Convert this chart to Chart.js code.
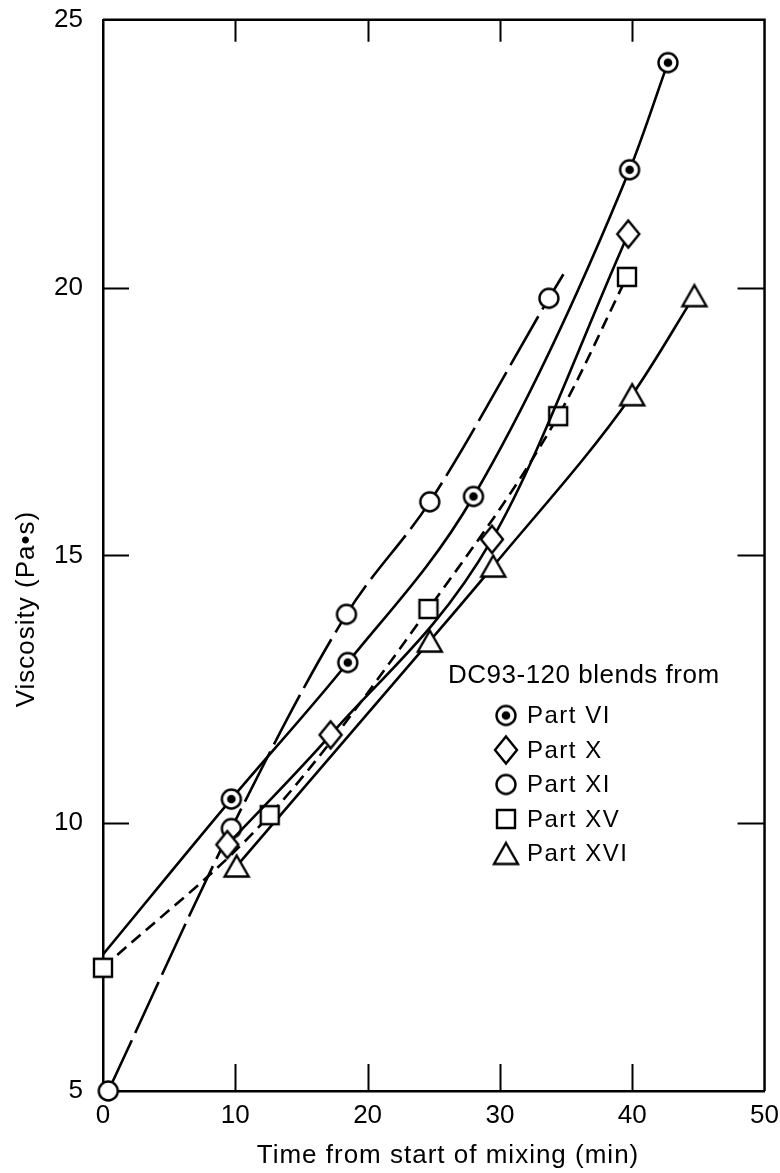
<!DOCTYPE html>
<html lang="en">
<head>
  <meta charset="UTF-8">
  <title>Viscosity of DC93-120 blends</title>
  <script src="https://cdn.jsdelivr.net/npm/chart.js"></script>
  <style>
    html, body { margin: 0; padding: 0; background: #fff; }
  </style>
</head>
<body>
  <canvas id="chart" width="780" height="1173"></canvas>

  <script>
    // values: time from start of mixing (min) / viscosity (Pa·s)
    const partVI_t  = [0, 9.7, 18.5, 28.0, 39.8, 42.7];
    const partVI_v  = [7.55, 10.45, 13.0, 16.1, 22.2, 24.2];
    const partX_t   = [9.4, 17.2, 29.4, 39.7];
    const partX_v   = [9.6, 11.65, 15.3, 21.0];
    const partXI_t  = [0.4, 9.7, 18.4, 24.7, 33.7, 34.8];
    const partXI_v  = [5.0, 9.9, 13.9, 16.0, 19.8, 20.25];
    const partXV_t  = [0, 12.6, 24.6, 34.4, 39.6];
    const partXV_v  = [7.3, 10.15, 14.0, 17.6, 20.2];
    const partXVI_t = [10.1, 24.7, 29.5, 40.0, 44.7];
    const partXVI_v = [9.2, 13.4, 14.8, 18.0, 19.85];

    const xTicks = [0, 10, 20, 30, 40, 50];
    const yTicks = [5, 10, 15, 20, 25];
    const xTitle = 'Time from start of mixing (min)';
    const yTitle = 'Viscosity (Pa•s)';
    const legendTitle = 'DC93-120 blends from';

    const FONT = '"Liberation Sans", Arial, sans-serif';

    // point markers drawn once on small canvases
    function makeMarker(kind) {
      const c = document.createElement('canvas');
      c.width = 30; c.height = 32;
      const g = c.getContext('2d');
      const cx = 15, cy = 16;
      g.lineWidth = 2.4;
      g.strokeStyle = '#000';
      g.fillStyle = '#fff';
      g.beginPath();
      if (kind === 'dot' || kind === 'circle') {
        g.arc(cx, cy, 9.5, 0, Math.PI * 2);
      } else if (kind === 'diamond') {
        g.moveTo(cx, cy - 13.5); g.lineTo(cx + 11, cy); g.lineTo(cx, cy + 13.5); g.lineTo(cx - 11, cy);
        g.closePath();
      } else if (kind === 'square') {
        g.rect(cx - 9, cy - 9, 18, 18);
      } else if (kind === 'triangle') {
        g.moveTo(cx, cy - 10.5); g.lineTo(cx + 12, cy + 10.5); g.lineTo(cx - 12, cy + 10.5);
        g.closePath();
      }
      g.fill();
      g.stroke();
      if (kind === 'dot') {
        g.beginPath();
        g.arc(cx, cy, 4.3, 0, Math.PI * 2);
        g.fillStyle = '#000';
        g.fill();
      }
      return c;
    }

    const toPoints = (t, v) => t.map((x, i) => ({ x, y: v[i] }));

    function series(label, t, v, kind, dash, hidden) {
      return {
        label,
        data: toPoints(t, v),
        borderColor: '#000',
        backgroundColor: '#fff',
        borderWidth: 2.6,
        borderDash: dash,
        pointStyle: makeMarker(kind),
        // no marker where the curve only runs on past the last reading
        pointRadius: t.map((_, i) => hidden.includes(i) ? 0 : 10),
        cubicInterpolationMode: 'monotone',
        fill: false,
        clip: false
      };
    }

    // frame on top/right plus inward tick marks
    const framePlugin = {
      id: 'frame',
      afterDatasetsDraw(chart) {
        const { ctx, chartArea: a, scales: { x, y } } = chart;
        ctx.save();
        ctx.strokeStyle = '#000';
        ctx.lineWidth = 2.5;
        ctx.beginPath();
        ctx.moveTo(a.left, a.top);
        ctx.lineTo(a.right, a.top);
        ctx.lineTo(a.right, a.bottom);
        ctx.stroke();
        ctx.lineWidth = 2;
        ctx.beginPath();
        xTicks.slice(1, -1).forEach(v => {
          const px = Math.round(x.getPixelForValue(v)) + 0.5;
          ctx.moveTo(px, a.bottom); ctx.lineTo(px, a.bottom - 27);
          ctx.moveTo(px, a.top); ctx.lineTo(px, a.top + 22);
        });
        yTicks.slice(1, -1).forEach(v => {
          const py = Math.round(y.getPixelForValue(v)) + 0.5;
          ctx.moveTo(a.left, py); ctx.lineTo(a.left + 26, py);
          ctx.moveTo(a.right, py); ctx.lineTo(a.right - 27, py);
        });
        ctx.stroke();
        ctx.restore();
      }
    };

    // axis titles and the legend block inside the plot
    const textPlugin = {
      id: 'texts',
      afterDraw(chart) {
        const ctx = chart.ctx;
        ctx.save();
        ctx.fillStyle = '#000';
        ctx.textBaseline = 'alphabetic';

        ctx.font = '26px ' + FONT;
        ctx.letterSpacing = '1px';
        ctx.textAlign = 'center';
        ctx.fillText(xTitle, 448, 1163);

        ctx.save();
        ctx.translate(34, 609);
        ctx.rotate(-Math.PI / 2);
        ctx.fillText(yTitle, 0, 0);
        ctx.restore();

        ctx.textAlign = 'left';
        ctx.letterSpacing = '0.5px';
        ctx.fillText(legendTitle, 448, 683);

        ctx.font = '24px ' + FONT;
        ctx.letterSpacing = '1.5px';
        chart.data.datasets.forEach((ds, i) => {
          const base = 723 + i * 34.5;
          ctx.drawImage(ds.pointStyle, 506 - 15, base - 7.5 - 16);
          ctx.fillText(ds.label, 527, base);
        });
        ctx.restore();
      }
    };

    new Chart(document.getElementById('chart').getContext('2d'), {
      type: 'line',
      data: {
        datasets: [
          series('Part VI', partVI_t, partVI_v, 'dot', [], [0]),
          series('Part X', partX_t, partX_v, 'diamond', [], []),
          series('Part XI', partXI_t, partXI_v, 'circle', [56, 8], [5]),
          series('Part XV', partXV_t, partXV_v, 'square', [12, 7], []),
          series('Part XVI', partXVI_t, partXVI_v, 'triangle', [], [])
        ]
      },
      options: {
        responsive: false,
        animation: false,
        layout: { padding: { top: 19, right: 7, left: 0, bottom: 0 } },
        plugins: { legend: { display: false }, tooltip: { enabled: false } },
        scales: {
          x: {
            type: 'linear',
            min: 0,
            max: 50,
            afterBuildTicks: s => { s.ticks = xTicks.map(value => ({ value })); },
            afterFit: s => { s.height = 82; },
            grid: { display: false },
            border: { display: true, color: '#000', width: 2.5 },
            ticks: { color: '#000', padding: 1, maxRotation: 0, font: { size: 26, family: FONT } }
          },
          y: {
            type: 'linear',
            min: 5,
            max: 25,
            afterBuildTicks: s => { s.ticks = yTicks.map(value => ({ value })); },
            afterFit: s => { s.width = 103; },
            grid: { display: false },
            border: { display: true, color: '#000', width: 2.5 },
            ticks: { color: '#000', padding: 12, font: { size: 26, family: FONT, lineHeight: 0.6 } }
          }
        }
      },
      plugins: [framePlugin, textPlugin]
    });
  </script>
</body>
</html>
